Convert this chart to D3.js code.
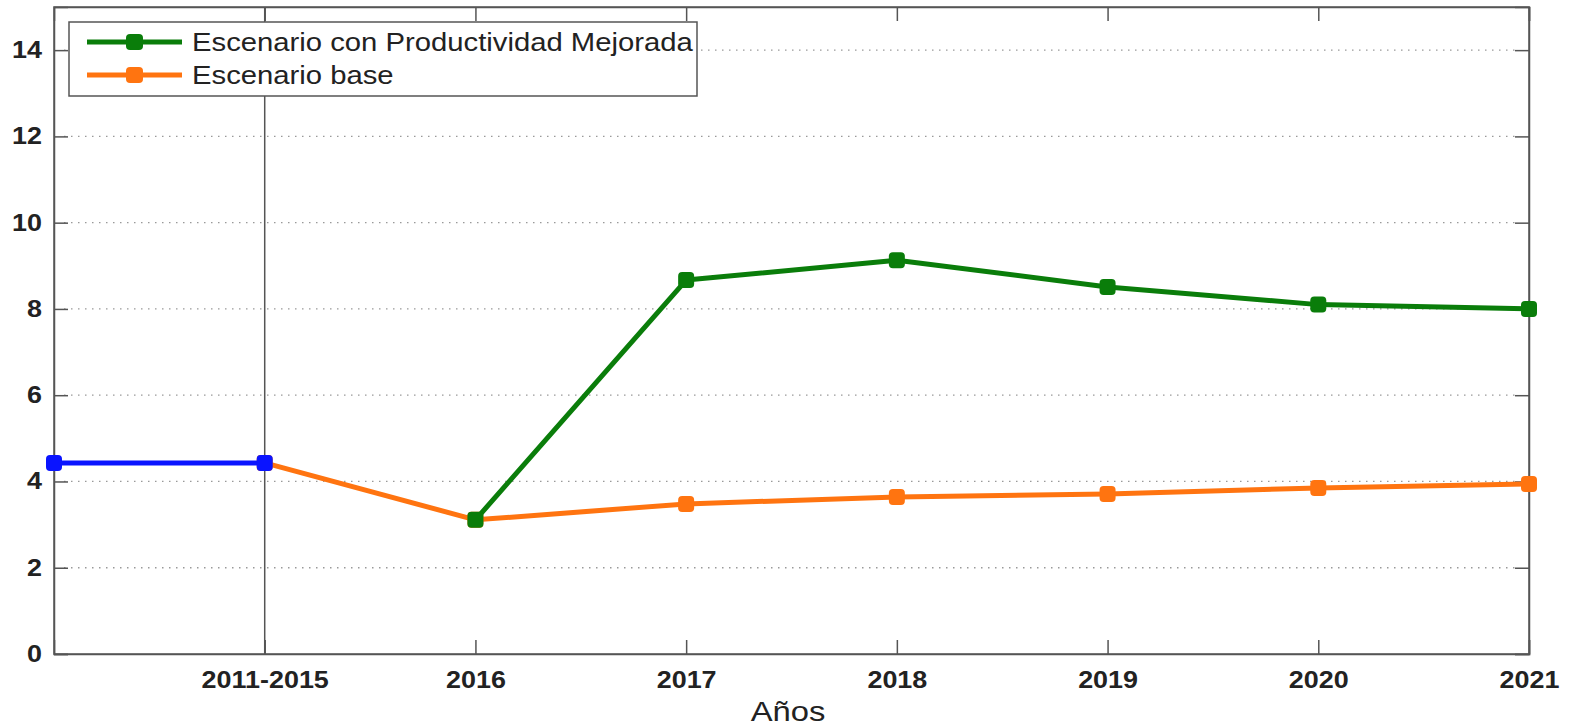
<!DOCTYPE html>
<html lang="es">
<meta charset="UTF-8">
<title>Escenarios</title>
<script src="https://d3js.org/d3.v7.min.js"></script>
<style>
  body { margin:0; background:#fff; }
  text { font-family: "Liberation Sans", Arial, sans-serif; fill:#222; }
</style>
<body>
<svg width="1573" height="726"></svg>
<script>
// categorias del eje x (la primera sin etiqueta)
var categorias = ["", "2011-2015", "2016", "2017", "2018", "2019", "2020", "2021"];
var yTicks = [0, 2, 4, 6, 8, 10, 12, 14];

// serie historica (azul)
var historico = [4.43, 4.43];
// escenario base (naranja), desde 2011-2015
var base = [4.43, 3.11, 3.48, 3.64, 3.71, 3.85, 3.94];
// escenario con productividad mejorada (verde), desde 2016
var mejorada = [3.11, 8.67, 9.13, 8.51, 8.10, 8.0];

var svg = d3.select("svg");
var mLeft = 54, mRight = 1529, mTop = 7, mBottom = 654;
var estirar = 1.17; // el original esta algo estirado en horizontal

var x = d3.scaleLinear().domain([0, categorias.length - 1]).range([mLeft, mRight]);
var y = d3.scaleLinear().domain([0, 15]).range([mBottom, mTop]);

// rejilla horizontal punteada
svg.selectAll("line.grid")
  .data(yTicks.filter(function(d){ return d > 0; }))
  .enter().append("line")
    .attr("x1", mLeft + 10).attr("x2", mRight - 10)
    .attr("y1", function(d){ return y(d); })
    .attr("y2", function(d){ return y(d); })
    .attr("stroke", "#999")
    .attr("stroke-width", 1.3)
    .attr("stroke-dasharray", "1.5,5.5");

// linea vertical en 2011-2015
svg.append("line")
  .attr("x1", x(1)).attr("x2", x(1))
  .attr("y1", mTop).attr("y2", mBottom)
  .attr("stroke", "#555").attr("stroke-width", 1.5);

// ejes (marco)
var yAxis = d3.axisLeft(y).tickValues(yTicks).tickSize(-14).tickPadding(12);
var gy = svg.append("g").attr("transform", "translate(" + mLeft + ",0)").call(yAxis);
var gy2 = svg.append("g").attr("transform", "translate(" + mRight + ",0)")
  .call(d3.axisRight(y).tickValues(yTicks).tickSize(-14).tickFormat(""));

var xAxis = d3.axisBottom(x).tickValues(d3.range(1, categorias.length))
  .tickFormat(function(i){ return categorias[i]; }).tickSize(-14).tickPadding(18);
var gx = svg.append("g").attr("transform", "translate(0," + mBottom + ")").call(xAxis);
var gx2 = svg.append("g").attr("transform", "translate(0," + mTop + ")")
  .call(d3.axisTop(x).tickValues(d3.range(1, categorias.length)).tickSize(-14).tickFormat(""));

[gy, gy2, gx, gx2].forEach(function(g){
  g.selectAll("path.domain").attr("stroke", "#555").attr("stroke-width", 1.5);
  g.selectAll(".tick line").attr("stroke", "#555").attr("stroke-width", 1.5);
  g.selectAll("text").style("font-size", "23px").style("font-weight", "bold").attr("fill", "#222");
});
gx.selectAll(".tick text").attr("dy", "0.71em");
svg.append("rect").attr("x", mLeft).attr("y", mTop).attr("width", mRight - mLeft).attr("height", mBottom - mTop)
  .attr("fill", "none").attr("stroke", "#555").attr("stroke-width", 1.5);

svg.append("text")
  .attr("x", 788).attr("y", 721)
  .attr("text-anchor", "middle")
  .style("font-size", "28px")
  .text("Años");

var line = d3.line().x(function(d){ return x(d.i); }).y(function(d){ return y(d.v); });

function dibujar(valores, inicio, color) {
  var pts = valores.map(function(v, k){ return { i: inicio + k, v: v }; });
  svg.append("path").datum(pts)
    .attr("d", line).attr("fill", "none")
    .attr("stroke", color).attr("stroke-width", 5).attr("stroke-linejoin", "round");
  svg.selectAll(null).data(pts).enter().append("rect")
    .attr("x", function(d){ return x(d.i) - 8; })
    .attr("y", function(d){ return y(d.v) - 8; })
    .attr("width", 16).attr("height", 16).attr("rx", 4)
    .attr("fill", color);
}

dibujar(base, 1, "#ff7410");
dibujar(mejorada, 2, "#0a7d0a");
dibujar(historico, 0, "#0a14ff");

// leyenda
var leyenda = [
  { nombre: "Escenario con Productividad Mejorada", color: "#0a7d0a" },
  { nombre: "Escenario base", color: "#ff7410" }
];
var lg = svg.append("g");
lg.append("rect").attr("x", 69).attr("y", 22).attr("width", 628).attr("height", 74)
  .attr("fill", "#fff").attr("stroke", "#555").attr("stroke-width", 1.5);
leyenda.forEach(function(d, i){
  var yy = 42 + i * 33;
  lg.append("line").attr("x1", 87).attr("x2", 182).attr("y1", yy).attr("y2", yy)
    .attr("stroke", d.color).attr("stroke-width", 5);
  lg.append("rect").attr("x", 126).attr("y", yy - 8).attr("width", 17).attr("height", 16).attr("rx", 4)
    .attr("fill", d.color);
  lg.append("text").attr("x", 192).attr("y", yy + 9)
    .style("font-size", "25px").text(d.nombre);
});

// estiramiento horizontal de todos los textos
svg.selectAll("text").each(function(){
  var n = this.getComputedTextLength();
  if (n > 0) d3.select(this).attr("textLength", n * estirar).attr("lengthAdjust", "spacingAndGlyphs");
});
</script>
</body>
</html>
